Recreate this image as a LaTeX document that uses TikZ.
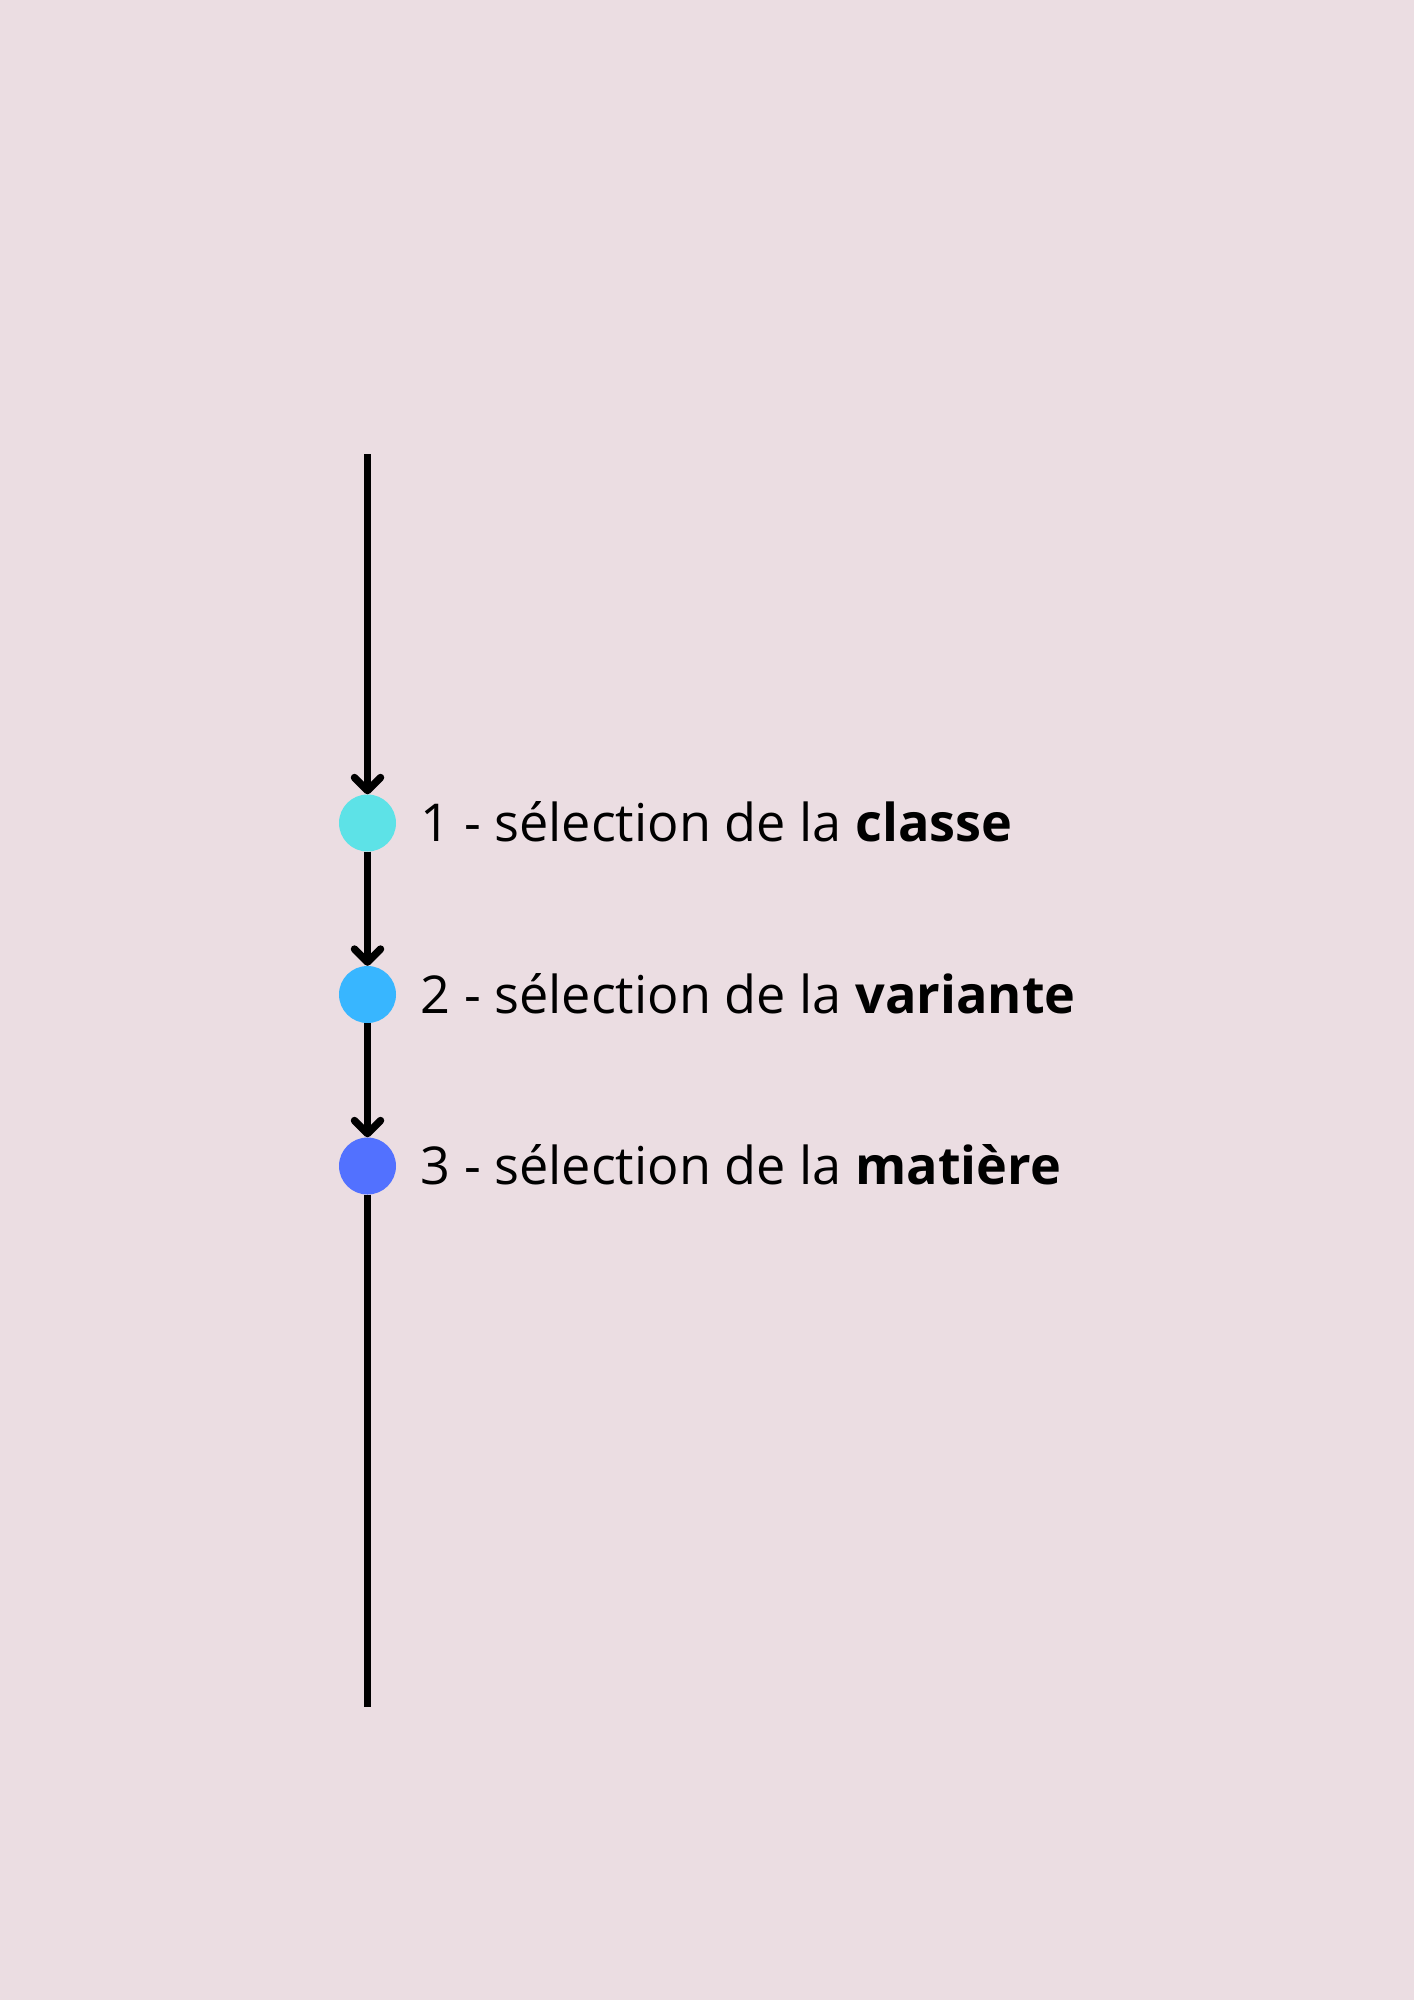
\documentclass[tikz,border=0pt]{standalone}
\usepackage{fontspec}
\setmainfont{Open Sans}
\usetikzlibrary{arrows.meta}
\definecolor{bg}{HTML}{EBDDE2}
\definecolor{cA}{HTML}{5DE2E7}
\definecolor{cB}{HTML}{38B6FF}
\definecolor{cC}{HTML}{5271FF}
\tikzset{
  dot/.style={circle, inner sep=0pt, minimum size=57pt, draw=none},
  link/.style={line width=7pt, black},
  arr/.style={link, -{Straight Barb[length=13pt,width=26pt,line width=7.5pt,round]}},
  lbl/.style={anchor=base west, inner sep=0pt, font=\fontsize{52.2pt}{60pt}\selectfont}
}
\begin{document}
\begin{tikzpicture}[x=1pt,y=-1pt]
\fill[bg] (0,0) rectangle (1414,2000);
\useasboundingbox (0,0) rectangle (1414,2000);
\coordinate (top) at (367.5,454);
\coordinate (bot) at (367.5,1707);
\node[dot, fill=cA] (c1) at (367.5,823) {};
\node[dot, fill=cB] (c2) at (367.5,994.5) {};
\node[dot, fill=cC] (c3) at (367.5,1166) {};
\draw[arr] (top) -- (c1.north);
\draw[arr] (c1.south) -- (c2.north);
\draw[arr] (c2.south) -- (c3.north);
\draw[link] (c3.south) -- (bot);
\node[lbl] (t1) at (420.5,841.7) {1 - sélection de la \textbf{classe}};
\node[lbl] (t2) at (420.5,1013.2) {2 - sélection de la \textbf{variante}};
\node[lbl] (t3) at (420.5,1184.7) {3 - sélection de la \textbf{matière}};
\end{tikzpicture}
\end{document}
